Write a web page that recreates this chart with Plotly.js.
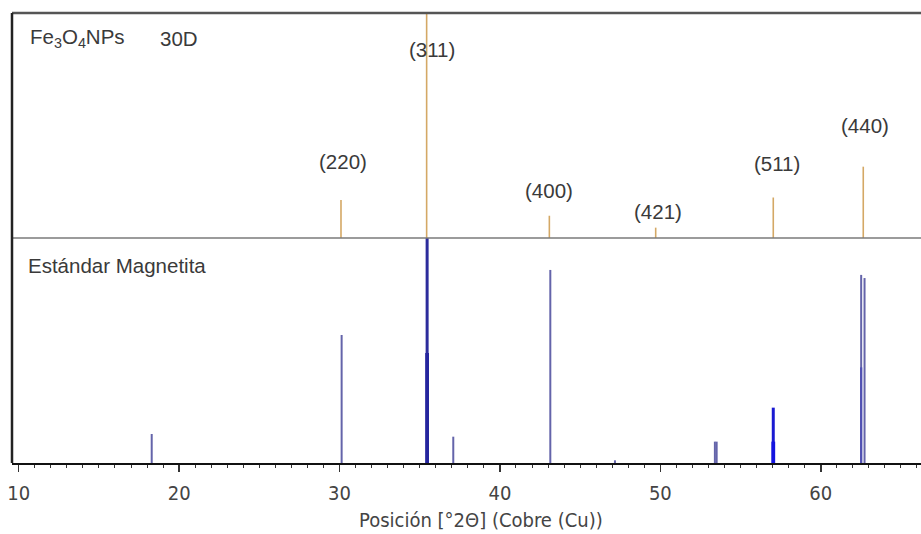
<!DOCTYPE html>
<html>
<head>
<meta charset="utf-8">
<script src="https://cdn.plot.ly/plotly-3.0.1.min.js"></script>
<style>
  html, body { margin: 0; padding: 0; background: #ffffff; }
  #chart { width: 921px; height: 534px; }
</style>
</head>
<body>
<div id="chart"></div>
<script>
// ---- Data ----
// Fe3O4 nanoparticles (30D) - top panel
const npPos = [30.09, 35.43, 43.08, 49.71, 57.04, 62.65];
const npInt = [16.9, 100, 9.9, 4.6, 18.0, 31.7];
const npHkl = ['(220)', '(311)', '(400)', '(421)', '(511)', '(440)'];

// Standard magnetite - bottom panel (thin lines)
const stdPos = [18.29, 30.13, 37.09, 43.14, 47.17, 53.40, 53.51, 62.52, 62.73];
const stdInt = [12.9, 56.9, 11.7, 85.8, 1.2, 9.5, 9.5, 83.6, 82.2];
// strong (bold) standard lines
const stdStrongPos = [35.46, 57.04];
const stdStrongInt = [100, 24.6];
// overlapping secondary reflections at the same positions
const stdOverlayPos = [35.46, 57.04];
const stdOverlayInt = [48.9, 9.5];
const stdFaintOverlayPos = [62.52];
const stdFaintOverlayInt = [42.5];

const xTitle = 'Posición [°2Θ] (Cobre (Cu))';
const topLabel = 'Fe<sub>3</sub>O<sub>4</sub>NPs';
const topLabel2 = '30D';
const bottomLabel = 'Estándar Magnetita';

// ---- helpers ----
function sticks(pos, inten) {
  const x = [], y = [];
  pos.forEach((p, i) => { x.push(p, p, null); y.push(0, inten[i], null); });
  return {x, y};
}
function lineTrace(s, yaxis, color, width) {
  return {x: s.x, y: s.y, xaxis: 'x', yaxis: yaxis, mode: 'lines', type: 'scatter',
          line: {color: color, width: width}, hoverinfo: 'skip', showlegend: false};
}

// styles
const strongColors = ['#2c2c9c', '#1a1ad2'];
const overlayColors = ['#26269e', '#1414e0'];

const traces = [
  lineTrace(sticks(npPos, npInt), 'y2', '#d4a865', 1.6),
  lineTrace(sticks(stdPos, stdInt), 'y', '#6464aa', 2),
  lineTrace(sticks(stdFaintOverlayPos, stdFaintOverlayInt), 'y', '#5050b4', 2.2)
];
stdStrongPos.forEach((p, i) => {
  traces.push(lineTrace(sticks([p], [stdStrongInt[i]]), 'y', strongColors[i], 3));
});
stdOverlayPos.forEach((p, i) => {
  traces.push(lineTrace(sticks([p], [stdOverlayInt[i]]), 'y', overlayColors[i], 3.8));
});

// label placement (layout only)
const hklLabelY = [33.8, 84, 20.9, 12, 33.3, 49.8];
const hklShift = [2, 5, 0, 2, 4, 2];

const txtFont = {family: 'Liberation Sans, Arial, sans-serif', size: 20.5, color: '#3a3a3a'};
const annotations = npHkl.map((t, i) => ({
  x: npPos[i], y: hklLabelY[i], xref: 'x', yref: 'y2', text: t, showarrow: false,
  xanchor: 'center', yanchor: 'middle', xshift: hklShift[i], font: txtFont
}));
annotations.push(
  {x: 0.0176, y: 0.944, xref: 'paper', yref: 'paper', text: topLabel, showarrow: false,
   xanchor: 'left', yanchor: 'middle', font: txtFont},
  {x: 0.161, y: 0.944, xref: 'paper', yref: 'paper', text: topLabel2, showarrow: false,
   xanchor: 'left', yanchor: 'middle', font: txtFont},
  {x: 0.0155, y: 0.44, xref: 'paper', yref: 'paper', text: bottomLabel, showarrow: false,
   xanchor: 'left', yanchor: 'middle', font: txtFont},
  {x: 0.516, y: -0.127, xref: 'paper', yref: 'paper', text: xTitle, showarrow: false,
   xanchor: 'center', yanchor: 'middle',
   font: {family: 'Liberation Sans Narrow, DejaVu Sans Condensed, sans-serif', size: 20, color: '#444444'}}
);

const layout = {
  width: 921, height: 534,
  margin: {l: 12, r: 0, t: 13, b: 71, pad: 0},
  paper_bgcolor: '#ffffff', plot_bgcolor: '#ffffff',
  showlegend: false,
  xaxis: {
    range: [9.58, 66.25], anchor: 'y', domain: [0, 1],
    showline: true, linecolor: '#111111', linewidth: 2,
    showgrid: false, zeroline: false,
    tick0: 10, dtick: 10, ticks: 'outside', ticklen: 7, tickwidth: 1.5, tickcolor: '#333333',
    minor: {dtick: 1, tick0: 10, ticks: 'outside', ticklen: 3, tickwidth: 1, tickcolor: '#333333', showgrid: false},
    tickfont: {family: 'Liberation Sans Narrow, DejaVu Sans Condensed, sans-serif', size: 20, color: '#444444'},
    ticklabelstandoff: 4,
    automargin: false, fixedrange: true
  },
  yaxis: {domain: [0, 0.5], range: [0, 100], visible: false, fixedrange: true},
  yaxis2: {domain: [0.5, 1], range: [0, 100], visible: false, fixedrange: true, anchor: 'x'},
  shapes: [
    {type: 'line', xref: 'paper', yref: 'paper', x0: 0, x1: 1, y0: 1, y1: 1,
     line: {color: '#555555', width: 2.5}},
    {type: 'line', xref: 'paper', yref: 'paper', x0: 0, x1: 1, y0: 0.5, y1: 0.5,
     line: {color: '#7a7a7a', width: 1.5}},
    {type: 'line', xref: 'paper', yref: 'paper', x0: 0, x1: 0, y0: 0, y1: 1,
     line: {color: '#222222', width: 2.5}}
  ],
  annotations: annotations
};

Plotly.newPlot('chart', traces, layout, {staticPlot: true, displayModeBar: false});
</script>
</body>
</html>
